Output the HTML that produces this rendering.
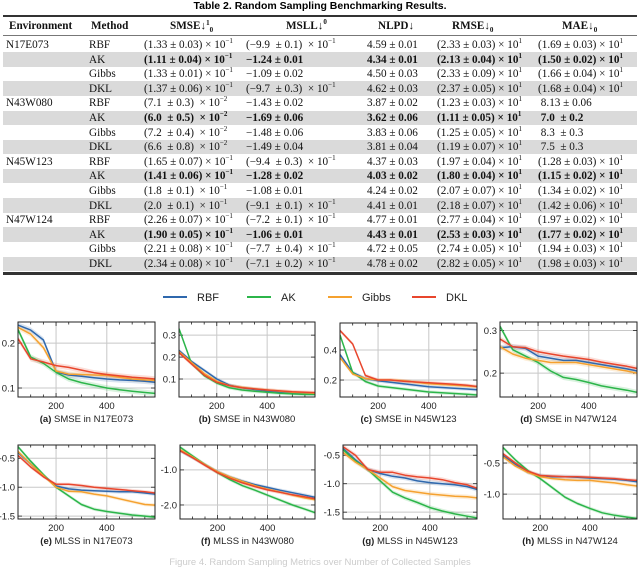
<!DOCTYPE html>
<html><head><meta charset="utf-8">
<style>
html,body{margin:0;padding:0;background:#fff;}
body{width:640px;height:567px;position:relative;overflow:hidden;font-family:"Liberation Serif",serif;}
.t{position:absolute;white-space:nowrap;font-size:11.2px;line-height:14px;color:#111;}
.row{position:absolute;left:3px;width:634px;height:14.5px;}
.sh{background:#dadada;}
.b{font-weight:bold;}
sup{font-size:7px;line-height:0;vertical-align:5px;}
sub{font-size:7px;line-height:0;}
#title{position:absolute;top:0;left:0;width:640px;text-align:center;font:bold 10.5px "Liberation Sans",sans-serif;}
.rule{position:absolute;left:3px;width:634px;background:#333;}
svg{position:absolute;left:0;top:0;}
</style></head><body>
<div id="title">Table 2.  Random Sampling Benchmarking Results.</div>
<div class="rule" style="top:15px;height:2px"></div>
<div class="rule" style="top:35px;height:1px;background:#777"></div>
<div class="rule" style="top:272px;height:2.5px"></div>
<div id="table">
<div class="t b" style="left:9px;top:19px">Environment</div>
<div class="t b" style="left:91px;top:19px">Method</div>
<div class="t b" style="left:170px;top:19px">SMSE↓<sup style="vertical-align:4px">1</sup><sub>0</sub></div>
<div class="t b" style="left:286px;top:19px">MSLL↓<sup>0</sup></div>
<div class="t b" style="left:378px;top:19px">NLPD↓</div>
<div class="t b" style="left:452px;top:19px">RMSE↓<sub>0</sub></div>
<div class="t b" style="left:562px;top:19px">MAE↓<sub>0</sub></div>
</div>
<svg id="chart" width="640" height="567"></svg>
<div class="t" style="left:0;width:640px;text-align:center;top:557px;font:9.5px 'Liberation Sans',sans-serif;color:#ccc">Figure 4.  Random Sampling Metrics over Number of Collected Samples</div>
<script>
// ---------- TABLE ----------
const rows=[
 ["N17E073","RBF","(1.33 ± 0.03) × 10<sup>−1</sup>","(−9.9  ± 0.1)  × 10<sup>−1</sup>","4.59 ± 0.01","(2.33 ± 0.03) × 10<sup>1</sup>","(1.69 ± 0.03) × 10<sup>1</sup>"],
 ["","AK","(1.11 ± 0.04) × 10<sup>−1</sup>","−1.24 ± 0.01","4.34 ± 0.01","(2.13 ± 0.04) × 10<sup>1</sup>","(1.50 ± 0.02) × 10<sup>1</sup>"],
 ["","Gibbs","(1.33 ± 0.01) × 10<sup>−1</sup>","−1.09 ± 0.02","4.50 ± 0.03","(2.33 ± 0.09) × 10<sup>1</sup>","(1.66 ± 0.04) × 10<sup>1</sup>"],
 ["","DKL","(1.37 ± 0.06) × 10<sup>−1</sup>","(−9.7  ± 0.3)  × 10<sup>−1</sup>","4.62 ± 0.03","(2.37 ± 0.05) × 10<sup>1</sup>","(1.68 ± 0.04) × 10<sup>1</sup>"],
 ["N43W080","RBF","(7.1  ± 0.3)  × 10<sup>−2</sup>","−1.43 ± 0.02","3.87 ± 0.02","(1.23 ± 0.03) × 10<sup>1</sup>"," 8.13 ± 0.06"],
 ["","AK","(6.0  ± 0.5)  × 10<sup>−2</sup>","−1.69 ± 0.06","3.62 ± 0.06","(1.11 ± 0.05) × 10<sup>1</sup>"," 7.0  ± 0.2"],
 ["","Gibbs","(7.2  ± 0.4)  × 10<sup>−2</sup>","−1.48 ± 0.06","3.83 ± 0.06","(1.25 ± 0.05) × 10<sup>1</sup>"," 8.3  ± 0.3"],
 ["","DKL","(6.6  ± 0.8)  × 10<sup>−2</sup>","−1.49 ± 0.04","3.81 ± 0.04","(1.19 ± 0.07) × 10<sup>1</sup>"," 7.5  ± 0.3"],
 ["N45W123","RBF","(1.65 ± 0.07) × 10<sup>−1</sup>","(−9.4  ± 0.3)  × 10<sup>−1</sup>","4.37 ± 0.03","(1.97 ± 0.04) × 10<sup>1</sup>","(1.28 ± 0.03) × 10<sup>1</sup>"],
 ["","AK","(1.41 ± 0.06) × 10<sup>−1</sup>","−1.28 ± 0.02","4.03 ± 0.02","(1.80 ± 0.04) × 10<sup>1</sup>","(1.15 ± 0.02) × 10<sup>1</sup>"],
 ["","Gibbs","(1.8  ± 0.1)  × 10<sup>−1</sup>","−1.08 ± 0.01","4.24 ± 0.02","(2.07 ± 0.07) × 10<sup>1</sup>","(1.34 ± 0.02) × 10<sup>1</sup>"],
 ["","DKL","(2.0  ± 0.1)  × 10<sup>−1</sup>","(−9.1  ± 0.1)  × 10<sup>−1</sup>","4.41 ± 0.01","(2.18 ± 0.07) × 10<sup>1</sup>","(1.42 ± 0.06) × 10<sup>1</sup>"],
 ["N47W124","RBF","(2.26 ± 0.07) × 10<sup>−1</sup>","(−7.2  ± 0.1)  × 10<sup>−1</sup>","4.77 ± 0.01","(2.77 ± 0.04) × 10<sup>1</sup>","(1.97 ± 0.02) × 10<sup>1</sup>"],
 ["","AK","(1.90 ± 0.05) × 10<sup>−1</sup>","−1.06 ± 0.01","4.43 ± 0.01","(2.53 ± 0.03) × 10<sup>1</sup>","(1.77 ± 0.02) × 10<sup>1</sup>"],
 ["","Gibbs","(2.21 ± 0.08) × 10<sup>−1</sup>","(−7.7  ± 0.4)  × 10<sup>−1</sup>","4.72 ± 0.05","(2.74 ± 0.05) × 10<sup>1</sup>","(1.94 ± 0.03) × 10<sup>1</sup>"],
 ["","DKL","(2.34 ± 0.08) × 10<sup>−1</sup>","(−7.1  ± 0.2)  × 10<sup>−1</sup>","4.78 ± 0.02","(2.82 ± 0.05) × 10<sup>1</sup>","(1.98 ± 0.03) × 10<sup>1</sup>"]
];
const colX=[6,89,144,246,367,437,538];
const tbl=document.getElementById('table');
rows.forEach((r,i)=>{
  const top=37.5+i*14.6;
  const rd=document.createElement('div');
  rd.className='row'+(i%2==1?' sh':'');
  rd.style.top=top+'px';
  
  
  tbl.appendChild(rd);
  r.forEach((c,j)=>{
    if(!c)return;
    const d=document.createElement('div');
    d.className='t'+(r[1]=='AK'&&j>=2?' b':'');
    d.style.left=colX[j]+'px';d.style.top=(top+0.5)+'px';d.style.whiteSpace='pre';
    d.innerHTML=c;
    
    
    tbl.appendChild(d);
  });
});

// ---------- CHARTS ----------
const xs=[50,100,150,200,250,300,350,400,450,500,550,590];
const seriesNames=["RBF","AK","Gibbs","DKL"];
const seriesColors=["#2f68ad","#2cb54a","#f5a12f","#e8462d"];
// (a) SMSE N17E073
const aRBF=[0.240,0.229,0.207,0.136,0.129,0.126,0.123,0.120,0.118,0.117,0.115,0.113];
const aAK=[0.230,0.169,0.155,0.135,0.120,0.112,0.106,0.100,0.096,0.093,0.090,0.088];
const aGibbs=[0.235,0.220,0.190,0.138,0.131,0.130,0.129,0.128,0.124,0.120,0.118,0.117];
const aDKL=[0.210,0.165,0.158,0.150,0.146,0.140,0.134,0.130,0.127,0.124,0.122,0.120];
// (b) SMSE N43W080
const bRBF=[0.230,0.180,0.140,0.100,0.072,0.060,0.052,0.046,0.041,0.036,0.033,0.031];
const bAK=[0.330,0.170,0.115,0.082,0.060,0.050,0.044,0.040,0.035,0.032,0.030,0.030];
const bGibbs=[0.225,0.175,0.125,0.090,0.070,0.062,0.055,0.050,0.045,0.040,0.037,0.035];
const bDKL=[0.220,0.168,0.118,0.085,0.070,0.060,0.055,0.050,0.046,0.042,0.040,0.038];
// (c) SMSE N45W123
const cRBF=[0.370,0.250,0.210,0.195,0.185,0.175,0.165,0.155,0.150,0.145,0.140,0.135];
const cAK=[0.500,0.250,0.190,0.160,0.150,0.140,0.130,0.120,0.115,0.110,0.105,0.100];
const cGibbs=[0.350,0.240,0.210,0.200,0.200,0.195,0.185,0.175,0.170,0.165,0.160,0.155];
const cDKL=[0.530,0.440,0.230,0.200,0.200,0.192,0.187,0.182,0.177,0.172,0.165,0.157];
// (d) SMSE N47W124
const dRBF=[0.260,0.262,0.258,0.240,0.235,0.230,0.230,0.225,0.220,0.215,0.210,0.205];
const dAK=[0.310,0.255,0.240,0.225,0.205,0.190,0.185,0.178,0.170,0.165,0.160,0.155];
const dGibbs=[0.262,0.245,0.235,0.230,0.225,0.225,0.225,0.220,0.215,0.210,0.205,0.200];
const dDKL=[0.280,0.262,0.260,0.250,0.245,0.240,0.236,0.232,0.226,0.221,0.216,0.211];
// (e) MLSS N17E073
const eRBF=[-0.40,-0.60,-0.80,-0.98,-1.03,-1.05,-1.06,-1.07,-1.08,-1.08,-1.10,-1.12];
const eAK=[-0.30,-0.55,-0.78,-1.00,-1.15,-1.30,-1.38,-1.42,-1.45,-1.48,-1.50,-1.52];
const eGibbs=[-0.38,-0.60,-0.80,-1.00,-1.07,-1.08,-1.12,-1.15,-1.20,-1.25,-1.30,-1.31];
const eDKL=[-0.45,-0.65,-0.82,-0.95,-0.95,-0.97,-1.00,-1.02,-1.04,-1.06,-1.08,-1.10];
// (f) MLSS N43W080
const fRBF=[-0.45,-0.65,-0.85,-1.05,-1.20,-1.32,-1.42,-1.50,-1.58,-1.65,-1.72,-1.78];
const fAK=[-0.35,-0.60,-0.85,-1.08,-1.28,-1.45,-1.58,-1.72,-1.86,-2.00,-2.12,-2.22];
const fGibbs=[-0.42,-0.63,-0.85,-1.05,-1.20,-1.33,-1.45,-1.55,-1.63,-1.72,-1.80,-1.85];
const fDKL=[-0.45,-0.65,-0.87,-1.08,-1.24,-1.37,-1.48,-1.57,-1.64,-1.71,-1.77,-1.82];
// (g) MLSS N45W123
const gRBF=[-0.38,-0.58,-0.75,-0.82,-0.87,-0.90,-0.95,-0.98,-1.00,-1.02,-1.05,-1.10];
const gAK=[-0.40,-0.60,-0.75,-0.95,-1.15,-1.25,-1.33,-1.42,-1.48,-1.53,-1.57,-1.60];
const gGibbs=[-0.45,-0.62,-0.75,-0.90,-1.05,-1.12,-1.15,-1.18,-1.20,-1.22,-1.23,-1.25];
const gDKL=[-0.35,-0.50,-0.75,-0.80,-0.80,-0.85,-0.88,-0.90,-0.93,-0.98,-1.02,-1.08];
// (h) MLSS N47W124
const hRBF=[-0.38,-0.52,-0.65,-0.70,-0.72,-0.72,-0.73,-0.74,-0.75,-0.76,-0.78,-0.80];
const hAK=[-0.25,-0.45,-0.62,-0.75,-0.90,-1.05,-1.15,-1.23,-1.30,-1.34,-1.37,-1.39];
const hGibbs=[-0.40,-0.55,-0.65,-0.72,-0.75,-0.77,-0.78,-0.78,-0.80,-0.82,-0.85,-0.87];
const hDKL=[-0.35,-0.50,-0.63,-0.70,-0.71,-0.72,-0.72,-0.73,-0.74,-0.75,-0.77,-0.78];
const xTicks=[200,400];
const yTicksA=[0.1,0.2], yLabA=["0.1","0.2"];
const yTicksB=[0.1,0.2,0.3], yLabB=["0.1","0.2","0.3"];
const yTicksC=[0.2,0.4], yLabC=["0.2","0.4"];
const yTicksD=[0.2,0.3], yLabD=["0.2","0.3"];
const yTicksE=[-1.5,-1.0,-0.5], yLabE=["-1.5","-1.0","-0.5"];
const yTicksF=[-2.0,-1.0], yLabF=["-2.0","-1.0"];
const yTicksG=[-1.5,-1.0,-0.5], yLabG=["-1.5","-1.0","-0.5"];
const yTicksH=[-1.0,-0.5], yLabH=["-1.0","-0.5"];
const captionLetters=["(a)","(b)","(c)","(d)","(e)","(f)","(g)","(h)"];
const captionTexts=[" SMSE in N17E073"," SMSE in N43W080"," SMSE in N45W123"," SMSE in N47W124"," MLSS in N17E073"," MLSS in N43W080"," MLSS in N45W123"," MLSS in N47W124"];

const panels=[
 {s:[aRBF,aAK,aGibbs,aDKL],y0:0.08,y1:0.247,yt:yTicksA,yl:yLabA,L:18,R:155,T:322,B:397,band:0.006},
 {s:[bRBF,bAK,bGibbs,bDKL],y0:0.018,y1:0.36,yt:yTicksB,yl:yLabB,L:179,R:315,T:322,B:397,band:0.008},
 {s:[cRBF,cAK,cGibbs,cDKL],y0:0.087,y1:0.58,yt:yTicksC,yl:yLabC,L:340,R:477,T:323,B:397,band:0.012},
 {s:[dRBF,dAK,dGibbs,dDKL],y0:0.144,y1:0.32,yt:yTicksD,yl:yLabD,L:500,R:637,T:322,B:397,band:0.006},
 {s:[eRBF,eAK,eGibbs,eDKL],y0:-1.55,y1:-0.27,yt:yTicksE,yl:yLabE,L:18,R:155,T:445,B:519,band:0.03},
 {s:[fRBF,fAK,fGibbs,fDKL],y0:-2.4,y1:-0.29,yt:yTicksF,yl:yLabF,L:180,R:315,T:445,B:519,band:0.05},
 {s:[gRBF,gAK,gGibbs,gDKL],y0:-1.62,y1:-0.32,yt:yTicksG,yl:yLabG,L:343,R:477,T:445,B:519,band:0.04},
 {s:[hRBF,hAK,hGibbs,hDKL],y0:-1.40,y1:-0.21,yt:yTicksH,yl:yLabH,L:503,R:637,T:445,B:519,band:0.03}
];
const NS='http://www.w3.org/2000/svg';
const svg=document.getElementById('chart');
function mk(tag,attrs,parent){const e=document.createElementNS(NS,tag);for(const k in attrs)e.setAttribute(k,attrs[k]);(parent||svg).appendChild(e);return e;}
const X0=50,X1=590;
panels.forEach((p,pi)=>{
  const g=mk('g',{});
  
  
  const sx=v=>p.L+(v-X0)/(X1-X0)*(p.R-p.L);
  const sy=v=>p.B-(v-p.y0)/(p.y1-p.y0)*(p.B-p.T);
  // grid
  xTicks.forEach(t=>{
    const l=mk('line',{x1:sx(t),x2:sx(t),y1:p.T,y2:p.B,stroke:'#c8c8c8','stroke-width':1},g);
    
    
    const tx=mk('text',{x:sx(t),y:p.B+12,'text-anchor':'middle','font-size':'9.5','font-family':'Liberation Sans, sans-serif',fill:'#222'},g);
    tx.textContent=t;
    
    
  });
  for(let t=100;t<=X1;t+=50){
    mk('line',{x1:sx(t),x2:sx(t),y1:p.B,y2:p.B-(t%200==0?4:2.5),stroke:'#222','stroke-width':0.8},g);
    mk('line',{x1:sx(t),x2:sx(t),y1:p.T,y2:p.T+(t%200==0?4:2.5),stroke:'#222','stroke-width':0.8},g);
  }
  p.yt.forEach((t,k)=>{
    const l=mk('line',{x1:p.L,x2:p.R,y1:sy(t),y2:sy(t),stroke:'#c8c8c8','stroke-width':1},g);
    
    
    mk('line',{x1:p.L,x2:p.L+4,y1:sy(t),y2:sy(t),stroke:'#222','stroke-width':0.8},g);
    mk('line',{x1:p.R,x2:p.R-4,y1:sy(t),y2:sy(t),stroke:'#222','stroke-width':0.8},g);
    const tx=mk('text',{x:p.L-3,y:sy(t)+3.3,'text-anchor':'end','font-size':'9.5','font-family':'Liberation Sans, sans-serif',fill:'#222'},g);
    tx.textContent=p.yl[k];
    
    
  });
  const cp=mk('clipPath',{id:'cp'+pi},g);
  mk('rect',{x:p.L,y:p.T,width:p.R-p.L,height:p.B-p.T},cp);
  const pg=mk('g',{'clip-path':'url(#cp'+pi+')'},g);
  p.s.forEach((arr,si)=>{
    let up='',dn='';
    arr.forEach((v,i)=>{up+=(i?'L':'M')+sx(xs[i]).toFixed(1)+','+sy(v+p.band).toFixed(1);});
    for(let i=arr.length-1;i>=0;i--)dn+='L'+sx(xs[i]).toFixed(1)+','+sy(arr[i]-p.band).toFixed(1);
    const band=mk('path',{d:up+dn+'Z',fill:seriesColors[si],opacity:0.18},pg);
    
    
  });
  p.s.forEach((arr,si)=>{
    let d='';
    arr.forEach((v,i)=>{d+=(i?'L':'M')+sx(xs[i]).toFixed(1)+','+sy(v).toFixed(1);});
    const ln=mk('path',{d:d,fill:'none',stroke:seriesColors[si],'stroke-width':1.5,'stroke-linejoin':'round'},pg);
    
    
  });
  const fr=mk('rect',{x:p.L,y:p.T,width:p.R-p.L,height:p.B-p.T,fill:'none',stroke:'#222','stroke-width':1},g);
  
  
  const cx=(p.L+p.R)/2, cy=p.B+25;
  const cap=mk('text',{x:cx,y:cy,'text-anchor':'middle','font-size':'9.5','font-family':'Liberation Sans, sans-serif',fill:'#222'},g);
  
  
  const b=mk('tspan',{'font-weight':'bold'},cap);b.textContent=captionLetters[pi];
  const r=mk('tspan',{},cap);r.textContent=captionTexts[pi];
});
// legend
const legX=[163,247,328,412];
const legend=mk('g',{});


seriesNames.forEach((n,i)=>{
  const e=mk('g',{},legend);
  
  
  mk('line',{x1:legX[i],x2:legX[i]+24,y1:297,y2:297,stroke:seriesColors[i],'stroke-width':2},e);
  const t=mk('text',{x:legX[i]+34,y:301,'font-size':'11','font-family':'Liberation Sans, sans-serif',fill:'#222'},e);
  t.textContent=n;
});
</script>
</body></html>
